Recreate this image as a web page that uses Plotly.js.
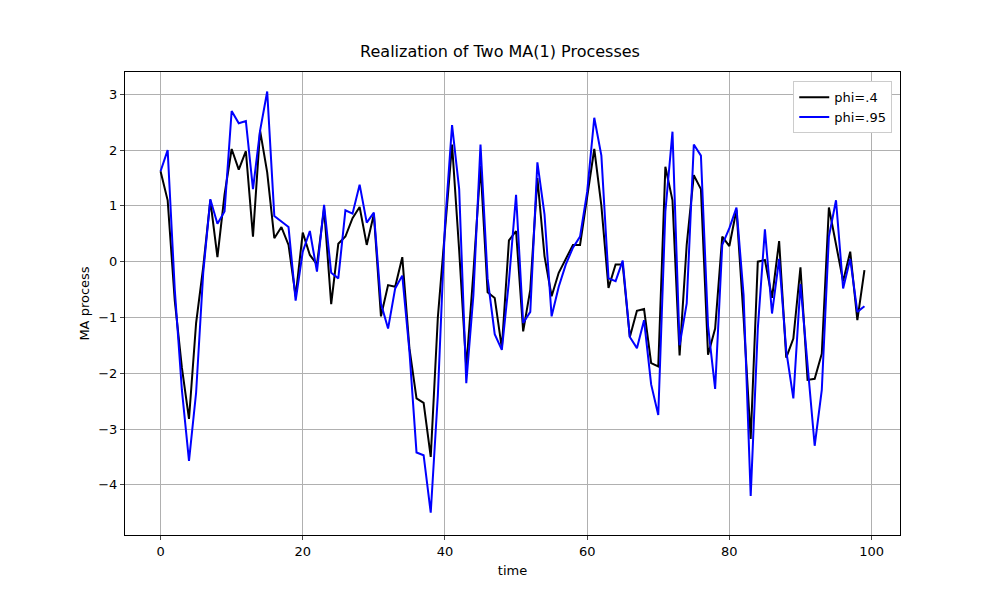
<!DOCTYPE html>
<html>
<head>
<meta charset="utf-8">
<script src="https://cdn.plot.ly/plotly-3.0.1.min.js"></script>
<style>body{margin:0;background:#fff}#chart{width:1000px;height:600px}</style>
</head>
<body>
<div id="chart"></div>
<script>
// phi=.4 realization
let ma04 = [1.62,1.1,-0.7,-1.9,-2.82,-1.1,-0.1,1.1,0.08,1.2,
  2.02,1.65,1.98,0.45,2.35,1.6,0.42,0.62,0.3,-0.62,
  0.52,0.12,-0.05,0.95,-0.76,0.32,0.45,0.78,0.98,0.3,
  0.85,-0.98,-0.42,-0.45,0.08,-1.55,-2.45,-2.53,-3.5,-1.0,
  0.55,2.1,0.2,-1.9,-0.2,1.72,-0.55,-0.65,-1.55,0.38,
  0.55,-1.25,-0.5,1.5,0.1,-0.62,-0.2,0.05,0.3,0.3,
  1.2,2.02,1.0,-0.47,-0.05,-0.05,-1.35,-0.88,-0.85,-1.82,
  -1.88,1.7,1.1,-1.68,0.3,1.55,1.3,-1.67,-1.2,0.45,
  0.28,0.93,-1.0,-3.18,0.0,0.03,-0.65,0.37,-1.72,-1.38,
  -0.1,-2.12,-2.1,-1.65,0.97,0.3,-0.35,0.18,-1.05,-0.15]

// phi=.95 realization
let ma095 = [1.62,2.0,-0.5,-2.3,-3.57,-2.35,-0.2,1.12,0.68,0.9,
  2.7,2.48,2.52,1.3,2.35,3.05,0.82,0.72,0.62,-0.7,
  0.18,0.55,-0.18,1.02,-0.2,-0.3,0.92,0.86,1.38,0.7,
  0.88,-0.75,-1.2,-0.48,-0.25,-1.6,-3.42,-3.47,-4.5,-2.4,
  0.65,2.45,1.3,-2.18,-0.6,2.1,-0.3,-1.3,-1.58,-0.35,
  1.2,-1.1,-0.9,1.78,0.85,-0.98,-0.45,-0.05,0.25,0.45,
  1.25,2.58,1.9,-0.3,-0.35,0.02,-1.35,-1.55,-1.05,-2.2,
  -2.75,0.9,2.33,-1.5,-0.75,2.1,1.9,-1.15,-2.28,0.3,
  0.6,0.97,-0.6,-4.2,-1.2,0.58,-0.93,0.05,-1.6,-2.45,
  -0.4,-1.85,-3.3,-2.3,0.45,1.1,-0.48,0.05,-0.9,-0.8]

let tt = ma04.map((v, i) => i)

var s1 = {x: tt, y: ma04, mode: 'lines', name: 'phi=.4', line: {color: 'black', width: 2}}
var s2 = {x: tt, y: ma095, mode: 'lines', name: 'phi=.95', line: {color: 'blue', width: 2}}

var ax = {showline: true, mirror: true, linecolor: 'black', linewidth: 1, ticks: 'outside',
  ticklen: 4, gridcolor: '#b0b0b0', zeroline: false, tickfont: {size: 13}}

var layout = {
  width: 1000, height: 600,
  font: {family: 'DejaVu Sans', color: 'black'},
  title: {text: 'Realization of Two MA(1) Processes', font: {size: 16}, y: 0.915, yanchor: 'middle'},
  margin: {l: 125, r: 100, t: 72, b: 65},
  xaxis: Object.assign({}, ax, {range: [-5, 104], dtick: 20, title: {text: 'time', font: {size: 13}, standoff: 8}}),
  yaxis: Object.assign({}, ax, {range: [-4.9, 3.4], dtick: 1, title: {text: 'MA process', font: {size: 13}}}),
  showlegend: true,
  legend: {x: 0.99, xanchor: 'right', y: 0.98, yanchor: 'top', bordercolor: '#ccc', borderwidth: 1, font: {size: 13}},
  plot_bgcolor: 'white', paper_bgcolor: 'white'
}

Plotly.newPlot('chart', [s1, s2], layout, {displayModeBar: false})
</script>
</body>
</html>
